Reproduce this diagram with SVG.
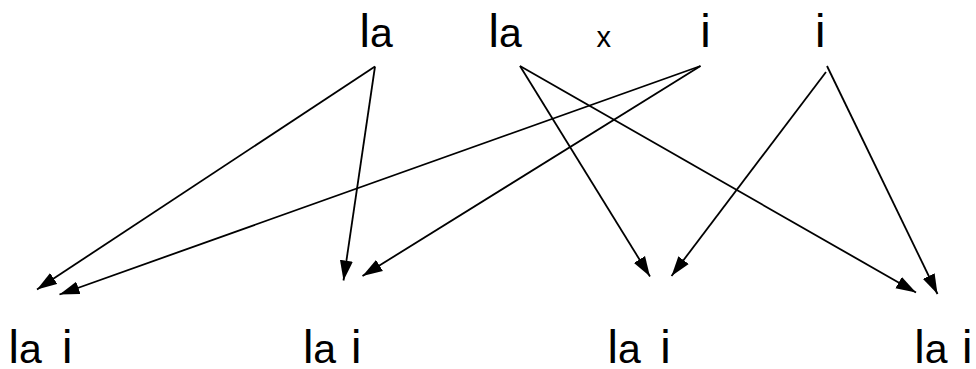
<svg xmlns="http://www.w3.org/2000/svg" width="976" height="369" viewBox="0 0 976 369">
<style>
.t{font-family:"Liberation Sans",Arial,sans-serif;fill:#000;font-size:47px}
.s{font-size:41px}
.x{font-size:29px}
.c line{stroke:#000;stroke-width:1.8;marker-end:url(#ah)}
</style>
<defs>
<marker id="ah" markerUnits="userSpaceOnUse" markerWidth="20" markerHeight="14" refX="20" refY="6.5" orient="auto" viewBox="0 0 20 13">
<path d="M0,0 L20,6.5 L0,13 z" fill="#000"/>
</marker>
</defs>
<rect width="976" height="369" fill="#fff"/>
<g id="top-la1"><text class="t" x="359.6" y="46.7">l<tspan class="s">a</tspan></text></g>
<g id="top-la2"><text class="t" x="488.6" y="46.7">l<tspan class="s">a</tspan></text></g>
<g id="top-x"><text class="t x" x="596.5" y="46.7">x</text></g>
<g id="top-i1"><text class="t" x="700.2" y="46.7">i</text></g>
<g id="top-i2"><text class="t" x="815" y="46.7">i</text></g>
<g id="bot1"><text class="t" x="8.6" y="363.3">l<tspan class="s">a</tspan></text><text class="t" x="61.9" y="363.3">i</text></g>
<g id="bot2"><text class="t" x="302.9" y="363.3">l<tspan class="s">a</tspan></text><text class="t" x="350.9" y="363.3">i</text></g>
<g id="bot3"><text class="t" x="607.6" y="363.3">l<tspan class="s">a</tspan></text><text class="t" x="660.2" y="363.3">i</text></g>
<g id="bot4"><text class="t" x="914.2" y="363.3">l<tspan class="s">a</tspan></text><text class="t" x="961.9" y="363.3">i</text></g>
<g id="connectors" class="c">
<line x1="375" y1="66.5" x2="37" y2="289.5"/>
<line x1="375" y1="66.5" x2="343.5" y2="280.5"/>
<line x1="520" y1="66" x2="650" y2="276.5"/>
<line x1="520" y1="66" x2="916" y2="292.5"/>
<line x1="700.5" y1="66" x2="59.5" y2="294.5"/>
<line x1="700.5" y1="66" x2="362.5" y2="276"/>
<line x1="826" y1="72" x2="671.5" y2="276"/>
<line x1="827" y1="66" x2="937.5" y2="294"/>
</g>
</svg>
